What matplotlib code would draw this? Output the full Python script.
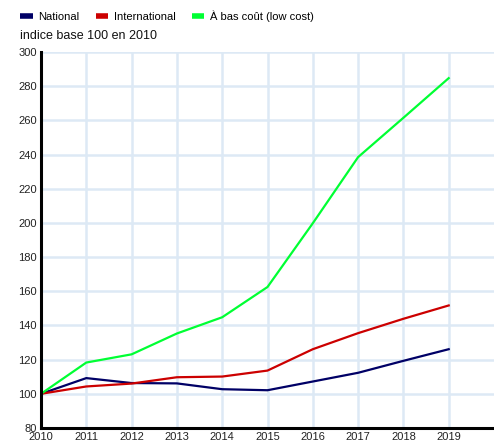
import matplotlib
matplotlib.use("Agg")
import matplotlib.pyplot as plt
from matplotlib.lines import Line2D

plt.rcParams['font.family'] = ['Liberation Sans', 'DejaVu Sans']

years = [2010, 2011, 2012, 2013, 2014, 2015, 2016, 2017, 2018, 2019]
national = [100, 109.2, 106.3, 106.1, 102.7, 102.1, 107.2, 112.3, 119.3, 126.1]
international = [100, 104.3, 106.0, 109.7, 110.1, 113.6, 126.1, 135.5, 143.9, 151.7]
low_cost = [100, 118.3, 123.1, 135.3, 144.8, 162.5, 199.8, 238.5, 261.5, 284.7]
series_names = ["National", "International", "À bas coût (low cost)"]
colors = ["#000066", "#cc0000", "#00ff33"]
yticks = list(range(80, 301, 20))
title = "indice base 100 en 2010"

fig = plt.figure(figsize=(4.94, 4.43), dpi=100)
ax = fig.add_axes([41/494, 1-428/443, 1-41/494, (428-52)/443])

for vals, c in zip([national, international, low_cost], colors):
    ax.plot(years, vals, color=c, lw=1.6, solid_joinstyle='miter', zorder=3)

ax.set_xlim(2010, 2020)
ax.set_ylim(80, 300)
ax.set_xticks(years)
ax.set_yticks(yticks)
ax.tick_params(length=0, labelsize=8, colors='#222222', pad=3)
ax.grid(True, color='#dde9f5', lw=1.8, zorder=0)
ax.set_axisbelow(True)
for s in ['top', 'right']:
    ax.spines[s].set_visible(False)
for s in ['left', 'bottom']:
    ax.spines[s].set_linewidth(2.2)
    ax.spines[s].set_color('black')
    ax.spines[s].set_zorder(4)

handles = [Line2D([0], [0], color=c, lw=4, solid_capstyle='butt') for c in colors]
fig.legend(handles, series_names, loc='upper left', bbox_to_anchor=(16/494, 1-6/443),
           ncol=3, frameon=False, fontsize=8, handlelength=1.1, handletextpad=0.5,
           columnspacing=1.5, borderaxespad=0)
fig.text(20/494, 1-36/443, title, fontsize=9, va='center', ha='left', color='#111111')

fig.savefig("out.png", dpi=100)
